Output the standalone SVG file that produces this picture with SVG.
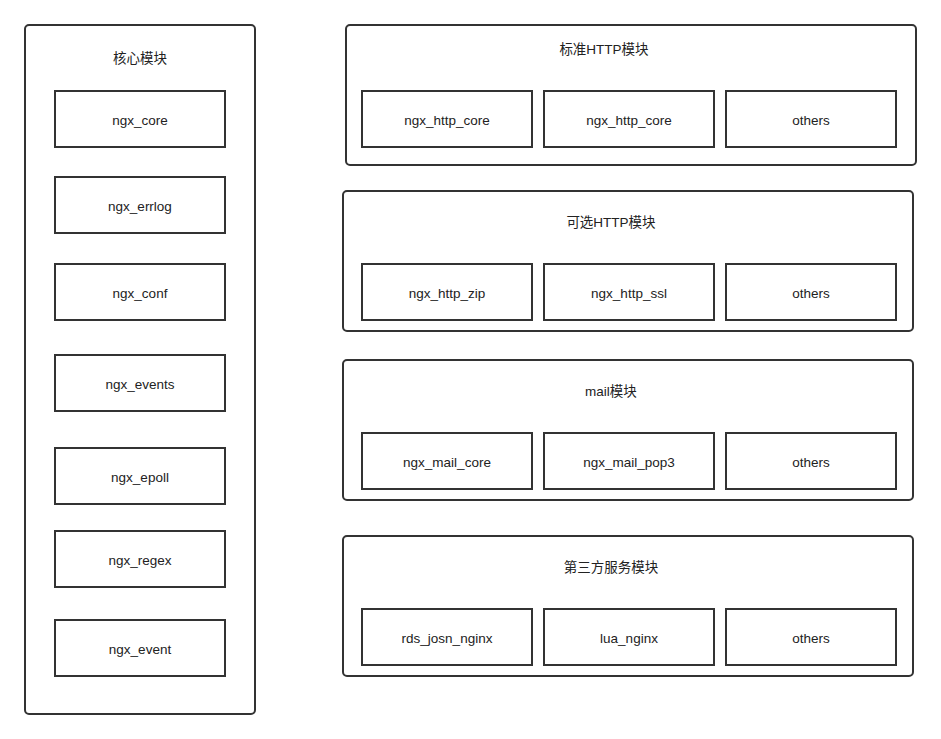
<svg xmlns="http://www.w3.org/2000/svg" width="941" height="739" viewBox="0 0 941 739">
<style>
.c{fill:#fff;stroke:#333;stroke-width:2}
.b{fill:#fff;stroke:#333;stroke-width:2}
text{font-family:"Liberation Sans","Noto Sans CJK SC",sans-serif;font-size:13.5px;fill:#222;text-anchor:middle;dominant-baseline:central}
</style>
<rect width="941" height="739" fill="#fff"/>
<g id="core">
<rect class="c" x="25" y="25" width="230" height="689" rx="4"/>
<text x="140" y="58">核心模块</text>
</g>
<g id="ngx_core"><rect class="b" x="55" y="91" width="170" height="56"/><text x="140" y="120">ngx_core</text></g>
<g id="ngx_errlog"><rect class="b" x="55" y="177" width="170" height="56"/><text x="140" y="206">ngx_errlog</text></g>
<g id="ngx_conf"><rect class="b" x="55" y="264" width="170" height="56"/><text x="140" y="293">ngx_conf</text></g>
<g id="ngx_events"><rect class="b" x="55" y="355" width="170" height="56"/><text x="140" y="384">ngx_events</text></g>
<g id="ngx_epoll"><rect class="b" x="55" y="448" width="170" height="56"/><text x="140" y="477">ngx_epoll</text></g>
<g id="ngx_regex"><rect class="b" x="55" y="531" width="170" height="56"/><text x="140" y="560">ngx_regex</text></g>
<g id="ngx_event"><rect class="b" x="55" y="620" width="170" height="56"/><text x="140" y="649">ngx_event</text></g>

<g id="std_http">
<rect class="c" x="346" y="25" width="570" height="140" rx="4"/>
<text x="604" y="49">标准HTTP模块</text>
</g>
<g id="ngx_http_core_1"><rect class="b" x="362" y="91" width="170" height="56"/><text x="447" y="120">ngx_http_core</text></g>
<g id="ngx_http_core_2"><rect class="b" x="544" y="91" width="170" height="56"/><text x="629" y="120">ngx_http_core</text></g>
<g id="others_1"><rect class="b" x="726" y="91" width="170" height="56"/><text x="811" y="120">others</text></g>

<g id="opt_http">
<rect class="c" x="343" y="191" width="570" height="140" rx="4"/>
<text x="611" y="222">可选HTTP模块</text>
</g>
<g id="ngx_http_zip"><rect class="b" x="362" y="264" width="170" height="56"/><text x="447" y="293">ngx_http_zip</text></g>
<g id="ngx_http_ssl"><rect class="b" x="544" y="264" width="170" height="56"/><text x="629" y="293">ngx_http_ssl</text></g>
<g id="others_2"><rect class="b" x="726" y="264" width="170" height="56"/><text x="811" y="293">others</text></g>

<g id="mail">
<rect class="c" x="343" y="360" width="570" height="140" rx="4"/>
<text x="611" y="391">mail模块</text>
</g>
<g id="ngx_mail_core"><rect class="b" x="362" y="433" width="170" height="56"/><text x="447" y="462">ngx_mail_core</text></g>
<g id="ngx_mail_pop3"><rect class="b" x="544" y="433" width="170" height="56"/><text x="629" y="462">ngx_mail_pop3</text></g>
<g id="others_3"><rect class="b" x="726" y="433" width="170" height="56"/><text x="811" y="462">others</text></g>

<g id="third">
<rect class="c" x="343" y="536" width="570" height="140" rx="4"/>
<text x="611" y="567">第三方服务模块</text>
</g>
<g id="rds_josn_nginx"><rect class="b" x="362" y="609" width="170" height="56"/><text x="447" y="638">rds_josn_nginx</text></g>
<g id="lua_nginx"><rect class="b" x="544" y="609" width="170" height="56"/><text x="629" y="638">lua_nginx</text></g>
<g id="others_4"><rect class="b" x="726" y="609" width="170" height="56"/><text x="811" y="638">others</text></g>

<g id="connectors"></g>
</svg>
